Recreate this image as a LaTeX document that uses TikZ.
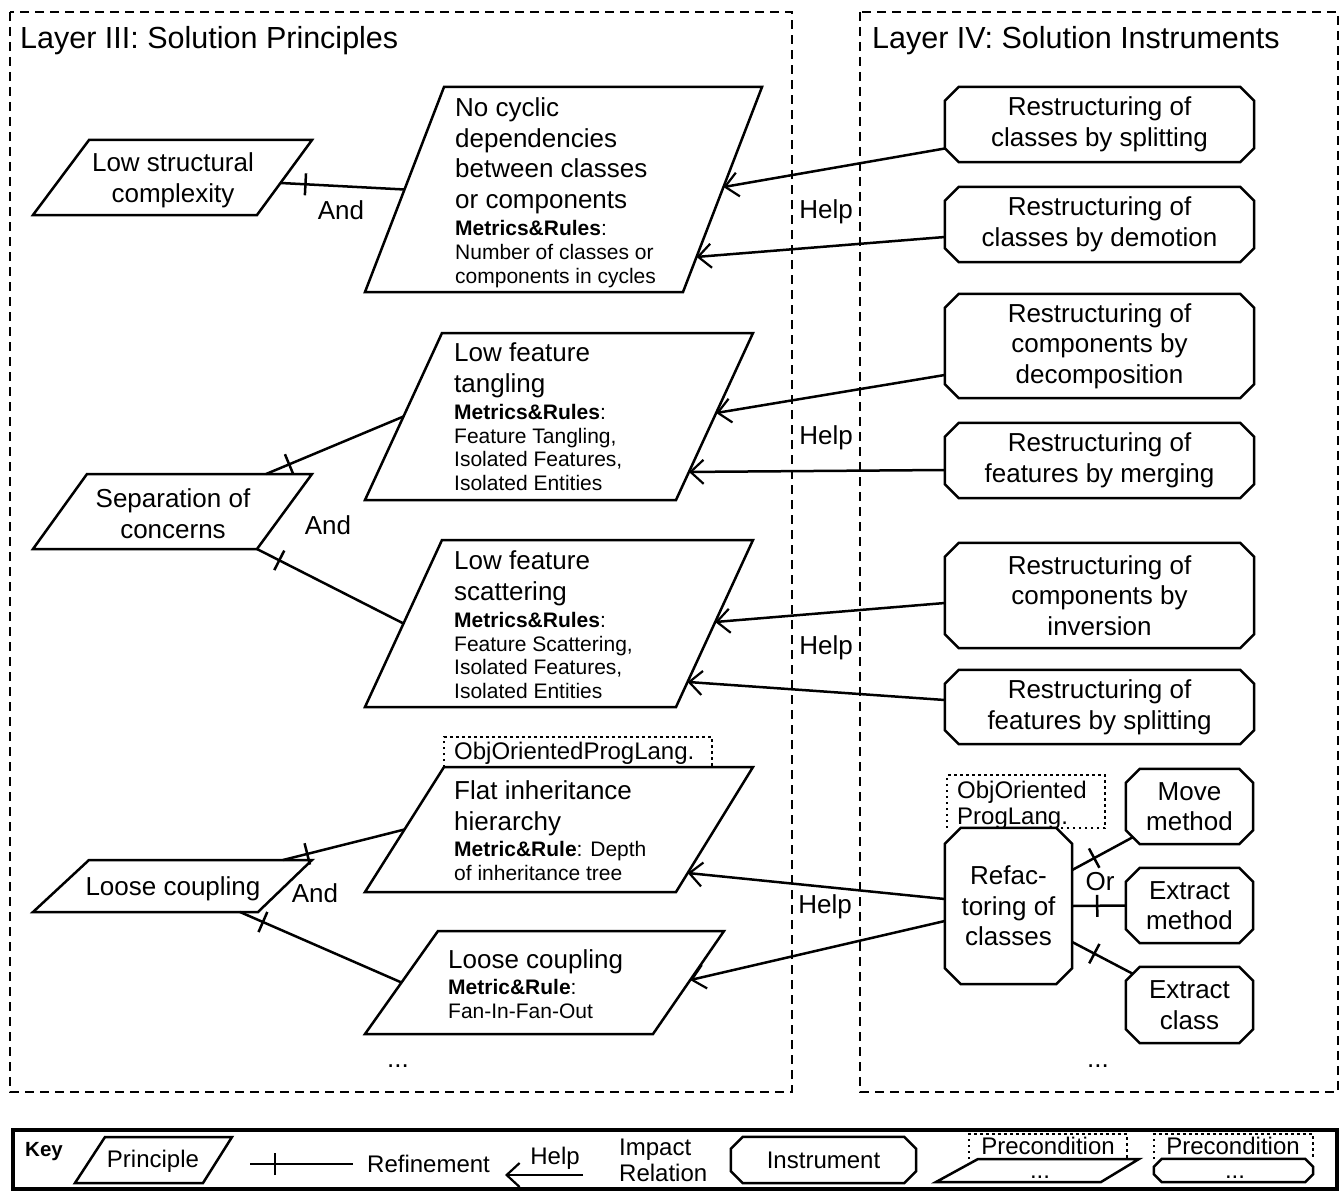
\documentclass[tikz,border=0pt]{standalone}
\usepackage{fontspec}
\setmainfont{Liberation Sans}
\usetikzlibrary{arrows.meta,decorations.markings,calc}

% font sizes
\newcommand\fbig{\fontsize{26}{30.6}\selectfont}
\newcommand\fsm{\fontsize{21}{24}\selectfont}
\newcommand\fttl{\fontsize{30.5}{36}\selectfont}
\newcommand\fkey{\fontsize{24}{26}\selectfont}

% parallelogram from its corners: name, top-left x, top-right x, top y, bottom-left x, bottom-right x, bottom y
\newcommand\paral[7]{%
  \coordinate (#1-tl) at (#2,#4); \coordinate (#1-tr) at (#3,#4);
  \coordinate (#1-br) at (#6,#7); \coordinate (#1-bl) at (#5,#7);
  \draw[shp] (#1-tl) -- (#1-tr) -- (#1-br) -- (#1-bl) -- cycle;}

% chamfered outline around a named node: name, chamfer size
\newcommand\octo[2]{%
  \draw[shp] ([xshift=#2pt]#1.north west) -- ([xshift=-#2pt]#1.north east)
    -- ([yshift=-#2pt]#1.north east) -- ([yshift=#2pt]#1.south east)
    -- ([xshift=-#2pt]#1.south east) -- ([xshift=#2pt]#1.south west)
    -- ([yshift=#2pt]#1.south west) -- ([yshift=-#2pt]#1.north west) -- cycle;}

\begin{document}
\begin{tikzpicture}[x=1pt,y=-1pt,
  shp/.style={line width=2.5pt, line join=miter},
  conn/.style={line width=2.5pt},
  reftick/.style={conn, postaction={decorate},
    decoration={markings, mark=at position 25pt with {\draw[line width=2.5pt] (0pt,-11pt) -- (0pt,11pt);}}},
  help/.style={conn, -{Straight Barb[length=13pt,width=24pt,line width=2.2pt]}},
  frame/.style={line width=1.8pt, dash pattern=on 9pt off 6pt},
  precond/.style={line width=1.8pt, dash pattern=on 2.5pt off 3.5pt},
  txt/.style={inner sep=0pt, font=\fbig},
  ptxt/.style={txt, anchor=north west, align=left},
  ctxt/.style={txt, align=center},
  lbl/.style={inner sep=0pt, font=\fbig},
  inst/.style={inner sep=0pt, font=\fbig, align=center, minimum width=309pt, minimum height=75pt},
  small/.style={inner sep=0pt, font=\fkey},
]
\useasboundingbox (0,0) rectangle (1343,1193);
\fill[white] (0,0) rectangle (1343,1193);

% ---------- layer frames ----------
\draw[frame] (10,12) rectangle (792,1092);
\draw[frame] (860,12) rectangle (1338,1092);
\node[inner sep=0pt, font=\fttl, anchor=west] (t3) at (20,41) {Layer III: Solution Principles};
\node[inner sep=0pt, font=\fttl, anchor=west] (t4) at (872,41) {Layer IV: Solution Instruments};

% ---------- Layer III: principles ----------
\paral{ls}{89}{312}{140}{33}{257}{215}
\node[ctxt] (lstxt) at (173,180) {Low structural\\complexity};

\paral{nc}{444}{762}{87}{365}{683}{292}
\node[ptxt] (nctxt) at (455,97.7) {No cyclic\\dependencies\\between classes\\or components\\[-3.4pt]{\fsm\textbf{Metrics\&Rules}:}\\[-6.6pt]{\fsm Number of classes or}\\[-6.6pt]{\fsm components in cycles}};

\paral{sep}{87}{312}{474}{33}{257}{549}
\node[ctxt] (septxt) at (173,514) {Separation of\\concerns};

\paral{tang}{442}{753}{333}{365}{676}{500}
\node[ptxt] (tangtxt) at (454,342.7) {Low feature\\tangling\\[-3.4pt]{\fsm\textbf{Metrics\&Rules}:}\\[-7pt]{\fsm Feature Tangling,}\\[-7pt]{\fsm Isolated Features,}\\[-7pt]{\fsm Isolated Entities}};

\paral{scat}{442}{753}{540}{365}{676}{707}
\node[ptxt] (scattxt) at (454,550.7) {Low feature\\scattering\\[-3.4pt]{\fsm\textbf{Metrics\&Rules}:}\\[-7pt]{\fsm Feature Scattering,}\\[-7pt]{\fsm Isolated Features,}\\[-7pt]{\fsm Isolated Entities}};

\draw[precond] (444,767) -- (444,737) -- (712,737) -- (712,767);
\node[small, anchor=west] (pre1) at (454,753) {ObjOrientedProgLang.};
\paral{flat}{444}{753}{767}{365}{676}{892}
\node[ptxt] (flattxt) at (454,780.7) {Flat inheritance\\hierarchy\\[-4.4pt]{\fsm\textbf{Metric\&Rule}: Depth}\\[-7pt]{\fsm of inheritance tree}};

\paral{lc}{89}{312}{860}{33}{258}{912}
\node[ctxt] (lctxt) at (173,889) {Loose coupling};

\paral{lcb}{438}{724}{931}{365}{653}{1034}
\node[ptxt] (lcbtxt) at (448,949.7) {Loose coupling\\[-4.4pt]{\fsm\textbf{Metric\&Rule}:}\\[-7pt]{\fsm Fan-In-Fan-Out}};

\node[lbl] (dots3) at (398,1066) {...};

% refinements in layer III
\draw[reftick] ($(ls-tr)!0.573!(ls-br)$) -- ($(nc-tl)!0.5!(nc-bl)$);
\draw[reftick] ($(sep-tl)!0.796!(sep-tr)$) -- ($(tang-tl)!0.5!(tang-bl)$);
\draw[reftick] (sep-br) -- ($(scat-tl)!0.5!(scat-bl)$);
\draw[reftick] ($(lc-tl)!0.87!(lc-tr)$) -- ($(flat-tl)!0.5!(flat-bl)$);
\draw[reftick] ($(lc-bl)!0.92!(lc-br)$) -- ($(lcb-tl)!0.5!(lcb-bl)$);
\node[lbl] (and1) at (341,210) {And};
\node[lbl] (and2) at (328,525) {And};
\node[lbl] (and3) at (315,893) {And};

% ---------- Layer IV: instruments ----------
\node[inst] (isplit) at (1099.5,124.5) {Restructuring of\\classes by splitting};
\node[inst] (idemo) at (1099.5,224.5) {Restructuring of\\classes by demotion};
\node[inst, minimum height=104pt] (idecomp) at (1099.5,346) {Restructuring of\\components by\\decomposition};
\node[inst] (imerge) at (1099.5,460.5) {Restructuring of\\features by merging};
\node[inst, minimum height=105pt] (iinv) at (1099.5,595.5) {Restructuring of\\components by\\inversion};
\node[inst, minimum height=74pt] (ifsplit) at (1099.5,707) {Restructuring of\\features by splitting};
\octo{isplit}{14}
\octo{idemo}{14}
\octo{idecomp}{14}
\octo{imerge}{14}
\octo{iinv}{14}
\octo{ifsplit}{14}

\draw[precond] (947,828) -- (947,775) -- (1105,775) -- (1105,828) -- (1054,828);
\node[small, anchor=north west, align=left, font=\fontsize{24}{25}\selectfont] (pre2) at (957,781.4) {ObjOriented\\ProgLang.};
\node[inst, minimum width=127pt, minimum height=156pt] (refac) at (1008.5,906) {Refac-\\toring of\\classes};
\octo{refac}{16}
\node[inst, minimum width=127pt] (move) at (1189.5,806.5) {Move\\method};
\node[inst, minimum width=127pt] (exm) at (1189.5,905.5) {Extract\\method};
\node[inst, minimum width=127pt, minimum height=76pt] (exc) at (1189.5,1005) {Extract\\class};
\octo{move}{14}
\octo{exm}{14}
\octo{exc}{14}

\draw[reftick] ([yshift=36pt]refac.east) -- ($(move.south west)+(7pt,7pt)$);
\draw[reftick] (refac.east) -- (exm.west);
\draw[reftick] ([yshift=-36pt]refac.east) -- ($(exc.north west)+(7pt,-7pt)$);
\node[lbl] (or) at (1100,882) {Or};
\node[lbl] (dots4) at (1098,1066) {...};

% ---------- impact relations ----------
\draw[help] ([yshift=-24pt]isplit.west) -- ($(nc-tr)!0.488!(nc-br)$);
\draw[help] ([yshift=-12.5pt]idemo.west) -- ($(nc-tr)!0.829!(nc-br)$);
\draw[help] ([yshift=-29pt]idecomp.west) -- ($(tang-tr)!0.479!(tang-br)$);
\draw[help] ([yshift=-9.5pt]imerge.west) -- ($(tang-tr)!0.832!(tang-br)$);
\draw[help] ([yshift=-7.5pt]iinv.west) -- ($(scat-tr)!0.491!(scat-br)$);
\draw[help] ([yshift=7pt]ifsplit.west) -- ($(scat-tr)!0.85!(scat-br)$);
\draw[help] ([yshift=7pt]refac.west) -- ($(flat-tr)!0.848!(flat-br)$);
\draw[help] ([yshift=-15pt]refac.west) -- ($(lcb-tr)!0.476!(lcb-br)$);
\node[lbl] (h1) at (826,212) {Help};
\node[lbl] (h2) at (826,438) {Help};
\node[lbl] (h3) at (826,648) {Help};
\node[lbl] (h4) at (825,907) {Help};

% ---------- key ----------
\draw[line width=3.5pt] (13,1130) rectangle (1337,1189);
\node[inner sep=0pt, anchor=west, font=\fontsize{20.5}{24}\selectfont\bfseries] (key) at (25,1152) {Key};
\paral{kp}{105}{232}{1137}{75}{203}{1183}
\node[small] (kptxt) at (153,1161) {Principle};
\coordinate (kr1) at (250,1164);
\coordinate (kr2) at (353,1164);
\draw[reftick] (kr1) -- (kr2);
\node[small, anchor=west] (krtxt) at (367,1164) {Refinement};
\coordinate (kh1) at (583,1175);
\coordinate (kh2) at (505,1175);
\draw[help] (kh1) -- (kh2);
\node[small] (khtxt) at (555,1158) {Help};
\node[small, anchor=west, align=left] (kitxt) at (619,1160) {Impact\\Relation};
\node[inst, minimum width=185pt, minimum height=46pt, font=\fkey] (kinst) at (823.5,1160) {Instrument};
\octo{kinst}{12}
\draw[precond] (969,1159) -- (969,1134) -- (1127,1134) -- (1127,1159);
\node[small] (kpre1) at (1048,1146) {Precondition};
\paral{kpp}{978}{1139}{1159}{936}{1101}{1182}
\node[small] (kppdots) at (1040,1177) {...};
\draw[precond] (1154,1159) -- (1154,1134) -- (1313,1134) -- (1313,1159);
\node[small] (kpre2) at (1233,1146) {Precondition};
\node[inner sep=0pt, minimum width=159pt, minimum height=23pt] (kio) at (1233.5,1170.5) {};
\octo{kio}{8}
\node[small] (kiodots) at (1235,1177) {...};
\end{tikzpicture}
\end{document}
